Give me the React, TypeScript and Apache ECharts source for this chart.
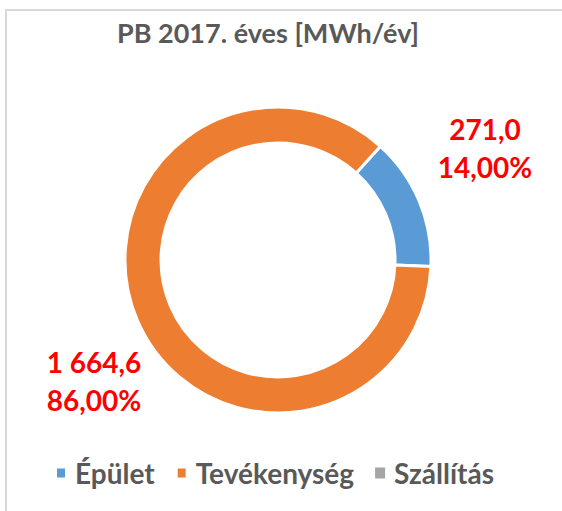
import React, { useEffect, useRef } from "react";
import * as echarts from "echarts";

const categories = ["Épület", "Tevékenység", "Szállítás"];
const values = [271.0, 1664.6, 0];
const colors = ["#5b9bd5", "#ed7d31", "#a5a5a5"];
const titleText = "PB 2017. éves [MWh/év]";
const labelPositions: [number, number][] = [
  [485, 148],
  [94, 381],
  [0, 0],
];

const FONT = "Lato, 'Open Sans', sans-serif";

function fmtNum(v: number): string {
  const s = v.toFixed(1);
  const [intPart, dec] = s.split(".");
  const withSpaces = intPart.replace(/\B(?=(\d{3})+(?!\d))/g, " ");
  return withSpaces + "," + dec;
}

export default function App() {
  const ref = useRef<HTMLDivElement>(null);
  useEffect(() => {
    document.body.style.margin = "0";
    if (!ref.current) return;
    const chart = echarts.init(ref.current, null, { renderer: "svg" });
    chart.setOption({
      animation: false,
      backgroundColor: "#ffffff",
      title: {
        text: titleText,
        left: 112,
        top: 14,
        textStyle: {
          fontFamily: FONT,
          fontSize: 27,
          fontWeight: "bold",
          color: "#595959",
        },
      },
      legend: {
        bottom: 19,
        left: 50,
        itemWidth: 10,
        itemHeight: 11,
        itemGap: 21,
        icon: "rect",
        data: categories,
        textStyle: {
          fontFamily: FONT,
          fontSize: 28,
          fontWeight: "bold",
          color: "#595959",
          padding: [0, 0, 0, 4],
        },
      },
      graphic: [
        {
          type: "rect",
          shape: { x: 6, y: 10, width: 700, height: 700 },
          style: { fill: "none", stroke: "#d9d9d9", lineWidth: 2 },
          silent: true,
          z: -1,
        },
      ],
      series: [
        {
          type: "pie",
          center: [278, 260],
          radius: [117, 153],
          startAngle: 48,
          clockwise: true,
          stillShowZeroSum: false,
          itemStyle: { borderColor: "#ffffff", borderWidth: 3 },
          label: {
            show: true,
            position: "outside",
            fontFamily: FONT,
            fontSize: 28,
            fontWeight: "bold",
            color: "#ff0000",
            lineHeight: 38,
            align: "center",
            overflow: "none",
            width: 200,
            formatter: (p: any) =>
              fmtNum(p.value) + "\n" + p.percent.toFixed(2).replace(".", ",") + "%",
          },
          labelLine: { show: false },
          labelLayout: (p: any) => {
            const pos = labelPositions[p.dataIndex];
            return { x: pos[0], y: pos[1], align: "center", verticalAlign: "middle" };
          },
          data: categories.map((name, i) => ({
            name,
            value: values[i],
            itemStyle: { color: colors[i], borderWidth: values[i] === 0 ? 0 : 3 },
            label: { show: values[i] !== 0 },
          })),
        },
      ],
    });
    return () => chart.dispose();
  }, []);
  return <div ref={ref} style={{ width: 562, height: 511 }} />;
}
